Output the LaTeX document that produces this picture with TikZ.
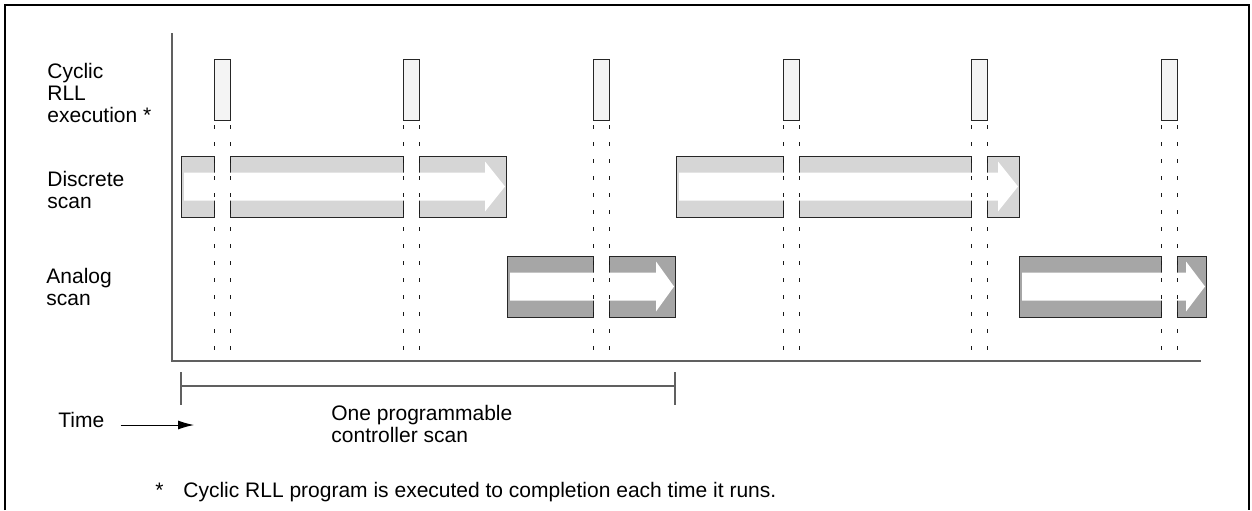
\documentclass[tikz,border=0pt]{standalone}
\usepackage{fontspec}
\setmainfont{Liberation Sans}
\usetikzlibrary{arrows.meta}

\definecolor{axisgray}{RGB}{96,96,96}
\definecolor{rllfill}{RGB}{244,244,244}
\definecolor{discfill}{RGB}{214,214,214}
\definecolor{anafill}{RGB}{166,166,166}

% white block arrow: start x, head base x, tip x, centre y
\newcommand{\flowarrow}[4]{%
	\fill[white] (#1,#4-14) -- (#2,#4-14) -- (#2,#4-25) -- (#3,#4) -- (#2,#4+25) -- (#2,#4+14) -- (#1,#4+14) -- cycle;
}

\begin{document}
\begin{tikzpicture}[x=0.5pt,y=-0.5pt]
			\tikzstyle{rowtext}=[anchor=base west,inner sep=0pt,align=left,font=\fontsize{10.5pt}{11pt}\selectfont]
			\tikzstyle{cyclic}=[draw=black!85,line width=0.5pt,fill=rllfill]
			\tikzstyle{discrete}=[draw=black!85,line width=0.5pt,fill=discfill]
			\tikzstyle{analog}=[draw=black!85,line width=0.5pt,fill=anafill]
			\tikzstyle{cut}=[black!90,line width=0.5pt,dash pattern=on 2.2pt off 6.3pt]
			\tikzstyle{axis}=[axisgray,line width=0.6pt]

			\useasboundingbox (0,0) rectangle (1252,510);
			\draw[line width=1pt] (5,510) -- (5,4.5) -- (1249,4.5) -- (1249,510);

			% row titles (base = last line)
			\node[rowtext] (cyclicrow) at (47,122) {Cyclic\\RLL\\execution *};
			\node[rowtext] (discreterow) at (47,208) {Discrete\\scan};
			\node[rowtext] (analogrow) at (46,305) {Analog\\scan};

			% time axis
			\coordinate (origin) at (172,361);
			\draw[axis] (172,33) -- (origin) -- (1201,361);

			% discrete scans
			\draw[discrete] (181,156) rectangle (214,217);
			\draw[discrete] (230,156) rectangle (403.5,217);
			\draw[discrete] (419.5,156) rectangle (506,217);
			\flowarrow{184}{485}{505}{186.5}
			\draw[discrete] (676,156) rectangle (783,217);
			\draw[discrete] (799,156) rectangle (971.5,217);
			\draw[discrete] (987.5,156) rectangle (1019,217);
			\flowarrow{679}{998}{1018}{186.5}

			% analog scans
			\draw[analog] (507,256) rectangle (593,317);
			\draw[analog] (609,256) rectangle (675,317);
			\flowarrow{510}{656}{674}{286.5}
			\draw[analog] (1019,256) rectangle (1161,317);
			\draw[analog] (1177,256) rectangle (1206,317);
			\flowarrow{1022}{1186}{1205}{286.5}

			% cyclic RLL slots
			\foreach \x in {214,403.5,593,783,971.5,1161} {
				\draw[cut] (\x,125) -- (\x,360);
				\draw[cut] (\x+16,125) -- (\x+16,360);
				\draw[cyclic] (\x,59) rectangle (\x+16,120);
			}

			% one controller scan
			\coordinate (scanstart) at (181,386);
			\coordinate (scanend) at (675,386);
			\draw[axis] (scanstart) -- (scanend);
			\draw[axis] (scanstart) ++(0,-14) -- ++(0,33);
			\draw[axis] (scanend) ++(0,-14) -- ++(0,33);
			\node[rowtext] (scanlabel) at (331,442) {One programmable\\controller scan};

			\node[rowtext] (time) at (58,427) {Time};
			\coordinate (timeend) at (194,425);
			\draw[-{Latex[length=8pt,width=4.5pt]},line width=0.5pt,shorten <=8pt] ([yshift=1pt]time.base east) -- (timeend);

			\node[rowtext] (star) at (155,497) {*};
			\node[rowtext] (note) at (183,497) {Cyclic RLL program is executed to completion each time it runs.};
\end{tikzpicture}
\end{document}
